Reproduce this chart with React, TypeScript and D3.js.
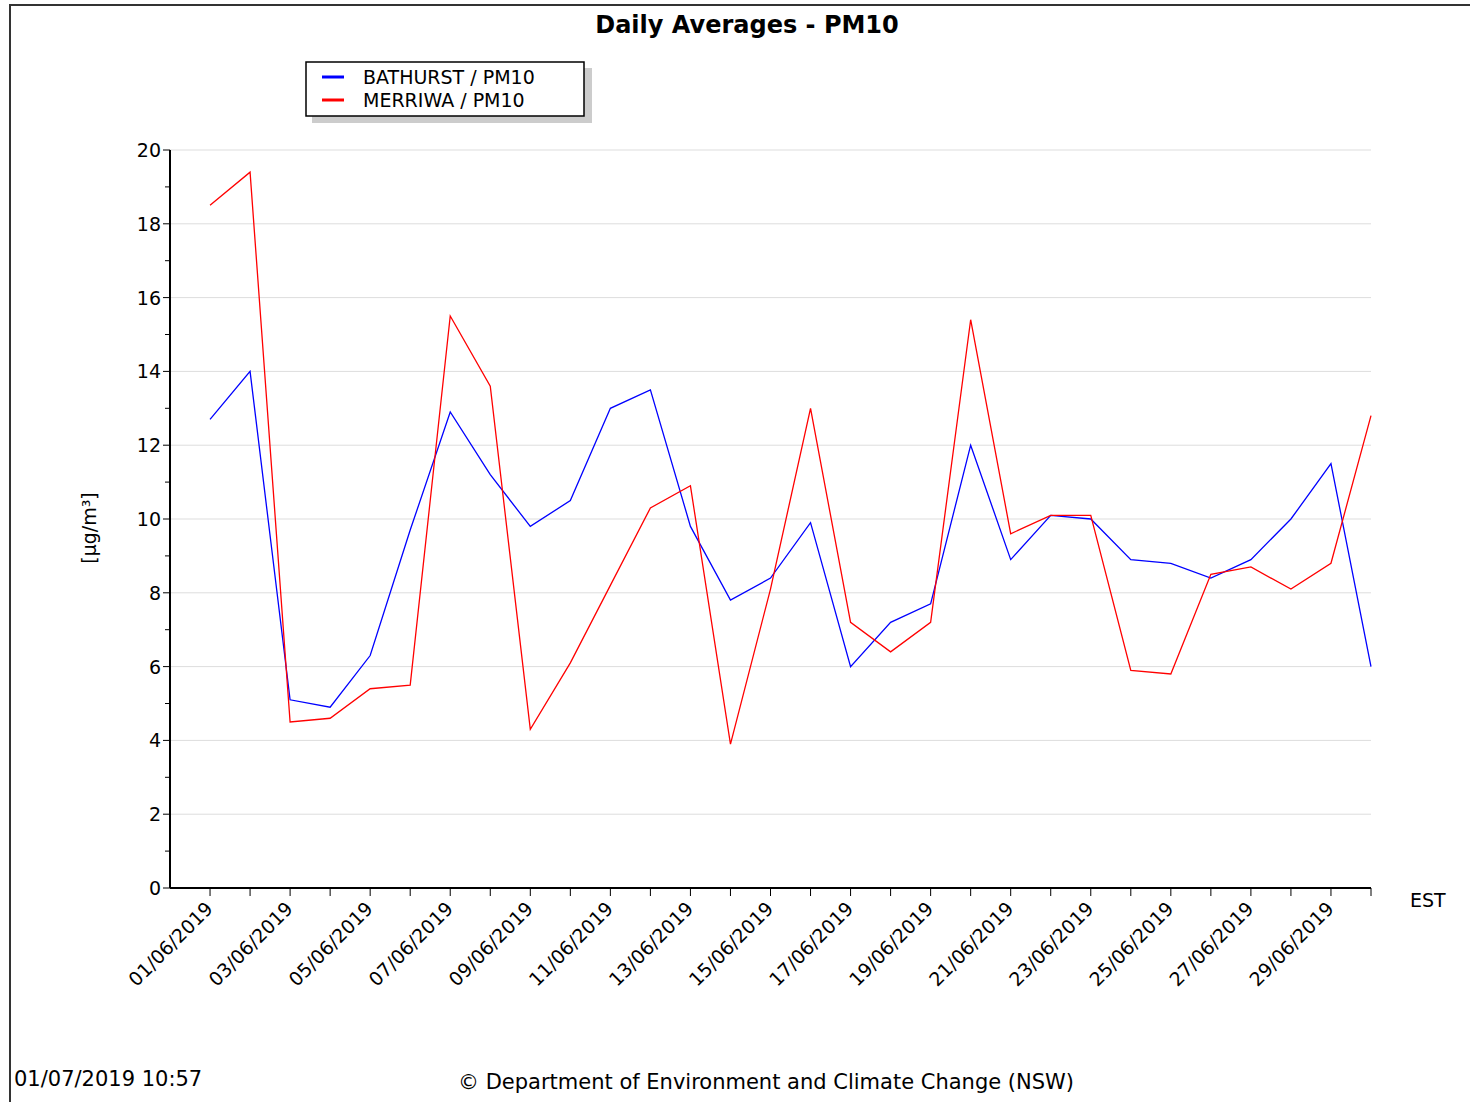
import * as d3 from "d3";

const days = d3.range(1, 31);
const bathurst = [12.7, 14.0, 5.1, 4.9, 6.3, 9.7, 12.9, 11.2, 9.8, 10.5, 13.0, 13.5, 9.8, 7.8, 8.4, 9.9, 6.0, 7.2, 7.7, 12.0, 8.9, 10.1, 10.0, 8.9, 8.8, 8.4, 8.9, 10.0, 11.5, 6.0];
const merriwa = [18.5, 19.4, 4.5, 4.6, 5.4, 5.5, 15.5, 13.6, 4.3, 6.1, 8.2, 10.3, 10.9, 3.9, 8.1, 13.0, 7.2, 6.4, 7.2, 15.4, 9.6, 10.1, 10.1, 5.9, 5.8, 8.5, 8.7, 8.1, 8.8, 12.8];
const yTicks = d3.range(0, 21, 2);
const series = [
  { name: "BATHURST / PM10", color: "#0000ff", values: bathurst },
  { name: "MERRIWA / PM10", color: "#ff0000", values: merriwa },
];

const W = 1470, H = 1102;
const x = d3.scaleLinear().domain([0, 30]).range([170, 1371]);
const y = d3.scaleLinear().domain([0, 20]).range([888, 150]);
const font = "'DejaVu Sans', sans-serif";
const pad = (n: number) => String(n).padStart(2, "0");

export default function App() {
  return (
    <svg width={W} height={H} style={{ position: "absolute", left: 0, top: 0 }} fontFamily={font}>
      <rect width={W} height={H} fill="#fff" />
      <path d="M10,1102 V5 H1470" fill="none" stroke="#333" strokeWidth={2} />
      <text x={747} y={33} textAnchor="middle" fontSize={24} fontWeight="bold">Daily Averages - PM10</text>
      {/* legend */}
      <rect x={312} y={68} width={280} height={55} fill="#ccc" />
      <rect x={306} y={62} width={278} height={54} fill="#fff" stroke="#000" strokeWidth={1.5} />
      {series.map((s, i) => (
        <g key={s.name} transform={`translate(322,${77 + i * 23})`}>
          <line x1={0} x2={22} y1={0} y2={0} stroke={s.color} strokeWidth={3} />
          <text x={41} y={7} fontSize={19}>{s.name}</text>
        </g>
      ))}
      {/* grid */}
      {yTicks.filter(t => t > 0).map(t => (
        <line key={t} x1={170} x2={1371} y1={y(t)} y2={y(t)} stroke="#ddd" />
      ))}
      {/* y axis */}
      <line x1={170} x2={170} y1={150} y2={888} stroke="#000" strokeWidth={2} />
      {d3.range(0, 21).map(t => (
        <line key={t} x1={t % 2 === 0 ? 163 : 165} x2={170} y1={y(t)} y2={y(t)} stroke="#000" />
      ))}
      {yTicks.map(t => (
        <text key={t} x={161} y={y(t) + 7} textAnchor="end" fontSize={19}>{t}</text>
      ))}
      <text transform={`translate(96,528) rotate(-90)`} textAnchor="middle" fontSize={19}>[µg/m³]</text>
      {/* x axis */}
      <line x1={170} x2={170 + 1201} y1={888} y2={888} stroke="#000" strokeWidth={2} />
      {days.map(d => (
        <line key={d} x1={x(d)} x2={x(d)} y1={888} y2={896} stroke="#000" />
      ))}
      {days.filter(d => d % 2 === 1).map(d => (
        <text key={d} transform={`translate(${x(d) + 4},${910}) rotate(-45)`} textAnchor="end" fontSize={19}>
          {`${pad(d)}/06/2019`}
        </text>
      ))}
      <text x={1410} y={907} fontSize={19}>EST</text>
      {/* lines */}
      {series.map(s => (
        <path key={s.name} fill="none" stroke={s.color} strokeWidth={1.3}
          d={d3.line<number>().x((_, i) => x(days[i])).y(v => y(v))(s.values) ?? ""} />
      ))}
      <text x={14} y={1086} fontSize={21}>01/07/2019 10:57</text>
      <text x={766} y={1089} textAnchor="middle" fontSize={21}>© Department of Environment and Climate Change (NSW)</text>
    </svg>
  );
}
